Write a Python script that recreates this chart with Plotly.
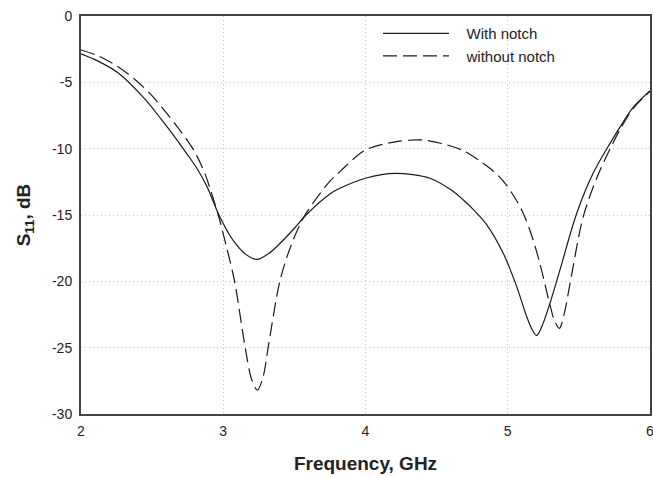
import plotly.graph_objects as go

# With notch
freq_notch = [2.0, 2.12, 2.26, 2.448, 2.565, 2.682, 2.738, 2.81, 2.883, 2.97,
              3.05, 3.094, 3.15, 3.235, 3.32, 3.40, 3.5, 3.582, 3.75, 3.82, 4.0, 4.207,
              4.453, 4.6, 4.688, 4.75, 4.85, 4.969, 5.063, 5.133, 5.17, 5.203, 5.24, 5.297,
              5.367, 5.485, 5.60, 5.719, 5.836, 5.88, 6.0]
s11_notch = [-2.85, -3.4, -4.28, -6.25, -7.8, -9.45, -10.3, -11.4, -12.8, -15.0,
             -16.6, -17.26, -17.9, -18.35, -17.9, -17.13, -16.0, -15.0, -13.41, -12.99, -12.23, -11.86,
             -12.23, -13.1, -13.87, -14.5, -15.7, -17.9, -20.4, -22.66, -23.6, -24.09, -23.4, -21.65,
             -19.14, -14.87, -11.86, -9.6, -7.59, -6.9, -5.63]

# Without notch
freq_plain = [2.0, 2.12, 2.26, 2.377, 2.494, 2.612, 2.705, 2.8, 2.872, 2.907, 2.965, 3.02,
              3.078, 3.153, 3.2, 3.24, 3.28, 3.317, 3.40, 3.48, 3.575, 3.75, 3.82, 4.0,
              4.219, 4.395, 4.55, 4.688, 4.80, 4.90, 4.969, 5.05, 5.11, 5.17, 5.227, 5.297,
              5.33, 5.363, 5.40, 5.438, 5.531, 5.63, 5.72, 5.79, 5.88, 6.0]
s11_plain = [-2.56, -3.0, -3.82, -4.77, -5.95, -7.46, -8.75, -10.25, -11.9, -13.0, -15.0, -17.3,
             -19.9, -24.9, -27.4, -28.2, -27.2, -24.9, -19.9, -17.2, -15.0, -12.45, -11.73, -10.1,
             -9.47, -9.34, -9.65, -10.15, -10.9, -11.7, -12.45, -13.7, -14.9, -16.6, -18.7, -21.8,
             -23.0, -23.55, -22.3, -20.15, -15.12, -12.1, -10.0, -8.55, -7.0, -5.68]

x_ticks = [2, 3, 4, 5, 6]
y_ticks = [0, -5, -10, -15, -20, -25, -30]

font_family = "Arial, Liberation Sans, sans-serif"
ink = "#1a1a1a"
pad = "\u00a0\u00a0\u00a0"

fig = go.Figure()
fig.add_trace(go.Scatter(x=freq_notch, y=s11_notch, mode="lines", name=pad + "With notch",
                         line=dict(color=ink, width=1.2, shape="spline", smoothing=0.9)))
fig.add_trace(go.Scatter(x=freq_plain, y=s11_plain, mode="lines", name=pad + "without notch",
                         line=dict(color=ink, width=1.2, dash="14px,6px", shape="spline", smoothing=0.9)))

axis_common = dict(showline=True, linecolor="#444444", linewidth=2, mirror=True,
                   showgrid=True, gridcolor="#c4c4c4", griddash="1px,3px", gridwidth=1,
                   ticks="", zeroline=False, automargin=False, ticklabeloverflow="allow",
                   tickfont=dict(family=font_family, size=14, color="#222"))

fig.update_layout(
    width=653, height=477,
    margin=dict(l=81, r=3, t=16, b=63),
    paper_bgcolor="white", plot_bgcolor="white",
    font=dict(family=font_family, color="#222"),
    showlegend=True,
    legend=dict(x=0.522, y=0.997, xanchor="left", yanchor="top",
                bgcolor="rgba(0,0,0,0)", font=dict(family=font_family, size=15, color="#222"),
                itemwidth=66, tracegroupgap=0),
    xaxis=dict(range=[2, 6], tickvals=x_ticks, ticktext=[str(v) for v in x_ticks],
               ticklabelstandoff=3,
               title=dict(text="<b>Frequency, GHz</b>", font=dict(family=font_family, size=19, color="#222"),
                          standoff=19),
               **axis_common),
    yaxis=dict(range=[-30, 0], tickvals=y_ticks, ticktext=[str(v) for v in y_ticks],
               ticklabelstandoff=4,
               title=dict(text="<b>S<sub>11</sub>, dB</b>", font=dict(family=font_family, size=19, color="#222"),
                          standoff=16),
               **axis_common),
)

fig.write_html("out.html", config={"responsive": False, "displayModeBar": False},
               post_script="document.body.style.margin='0';document.body.style.overflow='hidden';")
